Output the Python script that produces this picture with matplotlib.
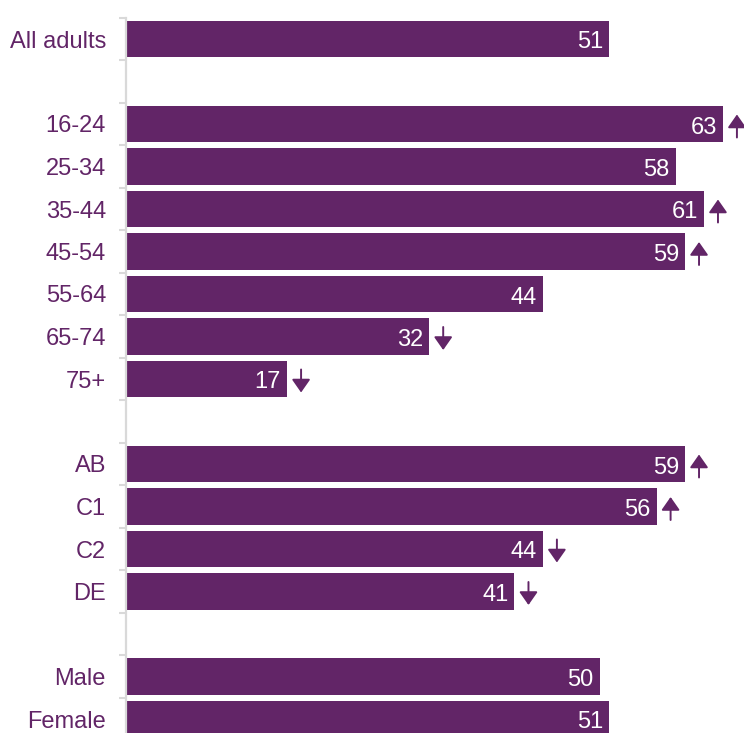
import matplotlib
matplotlib.use("Agg")
import matplotlib.pyplot as plt
from matplotlib.transforms import ScaledTranslation
from matplotlib.ticker import FixedLocator

categories = ["All adults", "", "16-24", "25-34", "35-44", "45-54", "55-64", "65-74", "75+",
              "", "AB", "C1", "C2", "DE", "", "Male", "Female"]
values = [51, None, 63, 58, 61, 59, 44, 32, 17, None, 59, 56, 44, 41, None, 50, 51]
# significance vs all adults: 1 = higher, -1 = lower, 0 = none
signif = [0, 0, 1, 0, 1, 1, 0, -1, -1, 0, 1, 1, -1, -1, 0, 0, 0]

PURPLE = "#622567"
GREY = "#d9d9d9"

plt.rcParams["font.family"] = ["Liberation Sans", "DejaVu Sans"]

W, H, DPI = 744, 733, 100
fig = plt.figure(figsize=(W / DPI, H / DPI), dpi=DPI)
left_px, top_px = 126, 17.75
ax = fig.add_axes([left_px / W, 0, (W - left_px) / W, (H - top_px) / H])

pos = list(range(len(categories)))
for i, v in enumerate(values):
    if v is None:
        continue
    ax.barh(i, v, height=0.87, color=PURPLE, zorder=2)
    ax.text(v, i, str(v), color="white", fontsize=17, ha="right", va="center_baseline",
            transform=ax.transData + ScaledTranslation(-6 / DPI, -1 / DPI, fig.dpi_scale_trans),
            zorder=3)
    s = signif[i]
    if s != 0:
        dx = 14 / DPI
        dy = -2 / DPI
        half = 11.5 / DPI
        tip = ax.transData + ScaledTranslation(dx, dy + s * half, fig.dpi_scale_trans)
        tail = ax.transData + ScaledTranslation(dx, dy - s * half, fig.dpi_scale_trans)
        ax.annotate("", xy=(v, i), xycoords=tip, xytext=(v, i), textcoords=tail,
                    arrowprops=dict(arrowstyle="-|>,head_length=0.4,head_width=0.28",
                                    mutation_scale=20, color=PURPLE, lw=1.4,
                                    shrinkA=0, shrinkB=0))

n = len(categories)
ax.set_xlim(0, (W - left_px) / 9.475)
ax.set_ylim((H - 39) / 42.5, -0.5)

ax.set_yticks(pos)
ax.set_yticklabels(categories)
for lab in ax.get_yticklabels():
    lab.set_verticalalignment("center_baseline")
ax.yaxis.set_minor_locator(FixedLocator([i - 0.5 for i in range(n)]))
ax.tick_params(axis="y", which="major", length=0, pad=14.4, labelsize=17, labelcolor=PURPLE)
ax.tick_params(axis="y", which="minor", length=5, width=1.5, color=GREY, direction="out")
ax.set_xticks([])

for sp in ["top", "right", "bottom"]:
    ax.spines[sp].set_visible(False)
ax.spines["left"].set_color(GREY)
ax.spines["left"].set_linewidth(1.6)
ax.spines["left"].set_zorder(4)

fig.savefig("out.png", dpi=DPI)
